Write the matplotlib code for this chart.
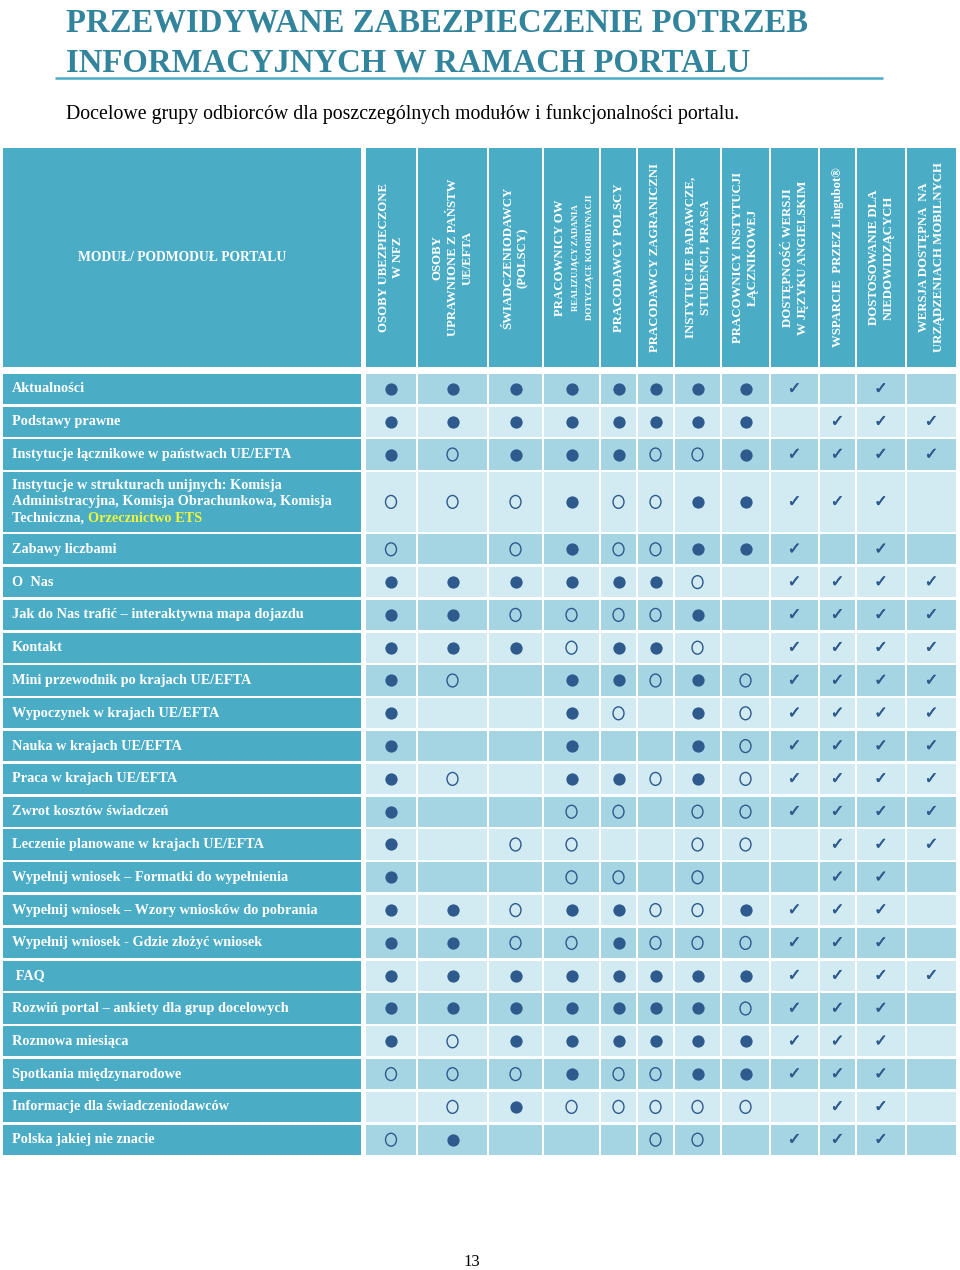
import matplotlib
matplotlib.use("Agg")
import matplotlib.pyplot as plt
import matplotlib.patheffects as pe
from matplotlib.patches import Rectangle
from matplotlib.path import Path
from matplotlib.transforms import Affine2D

# ---------------- data ----------------
title_lines = ["PRZEWIDYWANE ZABEZPIECZENIE POTRZEB",
               "INFORMACYJNYCH W RAMACH PORTALU"]
subtitle = "Docelowe grupy odbiorców dla poszczególnych modułów i funkcjonalności portalu."
corner_label = "MODUŁ/ PODMODUŁ PORTALU"
page_number = "13"

column_headers = [
    "OSOBY UBEZPIECZONE\nW NFZ",
    "OSOBY\nUPRAWNIONE Z PAŃSTW\nUE/EFTA",
    "ŚWIADCZENIODAWCY\n(POLSCY)",
    "PRACOWNICY OW\nREALIZUJĄCY ZADANIA\nDOTYCZĄCE KOORDYNACJI",
    "PRACODAWCY POLSCY",
    "PRACODAWCY ZAGRANICZNI",
    "INSTYTUCJE BADAWCZE,\nSTUDENCI, PRASA",
    "PRACOWNICY INSTYTUCJI\nŁĄCZNIKOWEJ",
    "DOSTĘPNOŚĆ WERSJI\nW JĘZYKU ANGIELSKIM",
    "WSPARCIE  PRZEZ Lingubot®",
    "DOSTOSOWANIE DLA\nNIEDOWIDZĄCYCH",
    "WERSJA DOSTĘPNA  NA\nURZĄDZENIACH MOBILNYCH",
]

modules = [
    "Aktualności",
    "Podstawy prawne",
    "Instytucje łącznikowe w państwach UE/EFTA",
    "Instytucje w strukturach unijnych: Komisja\nAdministracyjna, Komisja Obrachunkowa, Komisja\nTechniczna, |Orzecznictwo ETS",
    "Zabawy liczbami",
    "O  Nas",
    "Jak do Nas trafić – interaktywna mapa dojazdu",
    "Kontakt",
    "Mini przewodnik po krajach UE/EFTA",
    "Wypoczynek w krajach UE/EFTA",
    "Nauka w krajach UE/EFTA",
    "Praca w krajach UE/EFTA",
    "Zwrot kosztów świadczeń",
    "Leczenie planowane w krajach UE/EFTA",
    "Wypełnij wniosek – Formatki do wypełnienia",
    "Wypełnij wniosek – Wzory wniosków do pobrania",
    "Wypełnij wniosek - Gdzie złożyć wniosek",
    " FAQ",
    "Rozwiń portal – ankiety dla grup docelowych",
    "Rozmowa miesiąca",
    "Spotkania międzynarodowe",
    "Informacje dla świadczeniodawców",
    "Polska jakiej nie znacie",
]

# F = main target group (filled), O = secondary group (open), V = feature available, - = none
availability = [
    "FFFFFFFFV-V-",
    "FFFFFFFF-VVV",
    "FOFFFOOFVVVV",
    "OOOFOOFFVVV-",
    "O-OFOOFFV-V-",
    "FFFFFFO-VVVV",
    "FFOOOOF-VVVV",
    "FFFOFFO-VVVV",
    "FO-FFOFOVVVV",
    "F--FO-FOVVVV",
    "F--F--FOVVVV",
    "FO-FFOFOVVVV",
    "F--OO-OOVVVV",
    "F-OO--OO-VVV",
    "F--OO-O--VV-",
    "FFOFFOOFVVV-",
    "FFOOFOOOVVV-",
    "FFFFFFFFVVVV",
    "FFFFFFFOVVV-",
    "FOFFFFFFVVV-",
    "OOOFOOFFVVV-",
    "-OFOOOOO-VV-",
    "OF---OO-VVV-",
]

# ---------------- style / layout ----------------
TEAL = "#4BACC6"
TITLE_C = "#31849B"
DARK_BAND = "#A5D5E2"
LIGHT_BAND = "#D2EAF1"
NAVY = "#2E5A8E"
YELLOW = "#F0F53A"
SERIF = "Liberation Serif"

col_edges = [365, 417, 488, 543, 600, 637, 674, 721, 770, 819, 856, 906, 957]
label_x0, label_x1 = 3, 361
header_y0, header_y1 = 148, 367
body_y0 = 372.5
row_h = 32.8
extra_line_h = 14.6
gap = 2.6

fig = plt.figure(figsize=(9.6, 12.7), dpi=100)
ax = fig.add_axes([0, 0, 1, 1])
ax.set_xlim(0, 960)
ax.set_ylim(1270, 0)
ax.axis("off")

renderer = fig.canvas.get_renderer()


def fit_width(t, target):
    w = t.get_window_extent(renderer).width
    t.set_fontsize(t.get_fontsize() * target / w)


# title
t1 = ax.text(66, 31, title_lines[0], fontsize=21, fontweight="bold",
             family=SERIF, color=TITLE_C, va="baseline", ha="left")
fit_width(t1, 740)
t2 = ax.text(66, 72, title_lines[1], fontsize=t1.get_fontsize(),
             fontweight="bold", family=SERIF, color=TITLE_C,
             va="baseline", ha="left")
ax.plot([55, 883], [77.5, 77.5], color=TEAL, lw=1.8, solid_capstyle="butt")

ts = ax.text(66, 119, subtitle, fontsize=13, family=SERIF, color="black",
             va="baseline", ha="left")
fit_width(ts, 667)

# header row
ax.add_patch(Rectangle((label_x0, header_y0), label_x1 - label_x0,
                       header_y1 - header_y0, color=TEAL, lw=0))
ax.text((label_x0 + label_x1) / 2, (header_y0 + header_y1) / 2, corner_label,
        family=SERIF, fontweight="bold", fontsize=9.8, color="white",
        ha="center", va="center")

for c, head in enumerate(column_headers):
    x0, x1 = col_edges[c], col_edges[c + 1]
    ax.add_patch(Rectangle((x0 + gap / 2, header_y0), x1 - x0 - gap,
                           header_y1 - header_y0, color=TEAL, lw=0))
    xc = (x0 + x1) / 2
    yc = (header_y0 + header_y1) / 2
    lines = head.split("\n")
    if c == 3:
        ax.text(xc - 11.5, yc, lines[0], rotation=90, family=SERIF,
                fontweight="bold", fontsize=9.2, color="white",
                ha="center", va="center")
        for k, ln in enumerate(lines[1:]):
            ax.text(xc + 5 + 13.5 * k, yc, ln, rotation=90, family=SERIF,
                    fontweight="bold", fontsize=6.4, color="white",
                    ha="center", va="center")
    else:
        ax.text(xc, yc, head, rotation=90, family=SERIF, fontweight="bold",
                fontsize=9.2, color="white", ha="center", va="center",
                multialignment="center", linespacing=1.3)

# circle markers
ellipse = Path.unit_circle().transformed(Affine2D().scale(0.85, 1.0))
check_fx = [pe.withStroke(linewidth=0.45, foreground=NAVY)]

y = body_y0
for r, (name, states) in enumerate(zip(modules, availability)):
    nlines = name.count("\n") + 1
    h = row_h + (nlines - 1) * extra_line_h
    yc = y + h / 2
    band = DARK_BAND if r % 2 == 0 else LIGHT_BAND
    # label cell
    ax.add_patch(Rectangle((label_x0, y + gap / 2), label_x1 - label_x0,
                           h - gap, color=TEAL, lw=0))
    lines = name.split("\n")
    line_step = 16.5
    for k, ln in enumerate(lines):
        ly = yc + (k - (nlines - 1) / 2) * line_step
        if "|" in ln:
            a, b = ln.split("|")
            ta = ax.text(12, ly, a, family=SERIF, fontweight="bold",
                         fontsize=10.3, color="white", ha="left", va="center")
            ax.annotate(b, xy=(1, 0), xycoords=ta, family=SERIF,
                        fontweight="bold", fontsize=10.3, color=YELLOW,
                        ha="left", va="bottom")
        else:
            ax.text(12, ly, ln, family=SERIF, fontweight="bold",
                    fontsize=10.3, color="white", ha="left", va="center")
    # data cells
    for c, s in enumerate(states):
        x0, x1 = col_edges[c], col_edges[c + 1]
        ax.add_patch(Rectangle((x0 + gap / 2, y + gap / 2), x1 - x0 - gap,
                               h - gap, color=band, lw=0))
        xc = (x0 + x1) / 2
        if s == "F":
            ax.scatter([xc], [yc], s=78, marker="o", color=NAVY, lw=0,
                       zorder=3)
        elif s == "O":
            ax.scatter([xc], [yc], s=86, marker=ellipse, facecolors="none",
                       edgecolors=NAVY, linewidths=1.0, zorder=3)
        elif s == "V":
            ax.text(xc, yc, "✓", family="DejaVu Sans", fontweight="bold",
                    fontsize=11.5, color=NAVY, ha="center", va="center",
                    zorder=3, path_effects=check_fx)
    y += h

ax.text(472, 1262, page_number, family=SERIF, fontsize=12, color="black",
        ha="center", va="center")

fig.savefig("out.png", dpi=100)
